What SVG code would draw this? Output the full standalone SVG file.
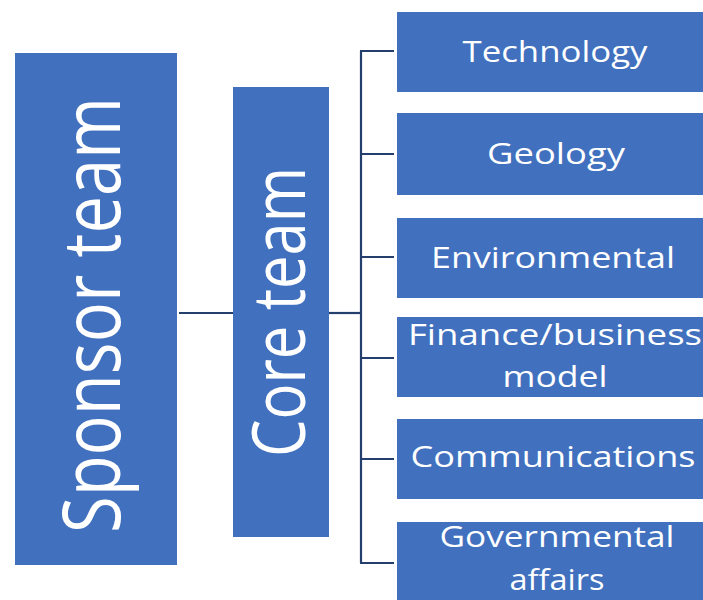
<svg xmlns="http://www.w3.org/2000/svg" width="703" height="600" viewBox="0 0 703 600">
  <style>
    .box { fill: #4070BE; }
    .lbl { fill: #ffffff; font-family: "Open Sans", "Liberation Sans", sans-serif; text-anchor: middle; }
    .link { stroke: #243F6E; stroke-width: 2.2; fill: none; }
  </style>
  <rect x="0" y="0" width="703" height="600" fill="#ffffff"/>

  <!-- connectors -->
  <g id="connectors">
    <line class="link" x1="179" y1="313" x2="234" y2="313"/>
    <line class="link" x1="329" y1="313" x2="361" y2="313"/>
    <line class="link" x1="361" y1="51" x2="361" y2="563"/>
    <line class="link" x1="360" y1="51" x2="394" y2="51"/>
    <line class="link" x1="360" y1="154" x2="394" y2="154"/>
    <line class="link" x1="360" y1="257" x2="394" y2="257"/>
    <line class="link" x1="360" y1="358" x2="394" y2="358"/>
    <line class="link" x1="360" y1="459" x2="394" y2="459"/>
    <line class="link" x1="360" y1="563" x2="394" y2="563"/>
  </g>

  <!-- main team boxes -->
  <g id="sponsor">
    <rect class="box" x="15" y="53" width="162" height="512"/>
    <text class="lbl" font-size="80" textLength="436" lengthAdjust="spacingAndGlyphs" transform="translate(120,315) rotate(-90)">Sponsor team</text>
  </g>
  <g id="core">
    <rect class="box" x="233" y="87" width="96" height="450"/>
    <text class="lbl" font-size="74" textLength="290" lengthAdjust="spacingAndGlyphs" transform="translate(305,312) rotate(-90)">Core team</text>
  </g>

  <!-- work streams -->
  <g id="technology">
    <rect class="box" x="397" y="12" width="320" height="80"/>
    <text class="lbl" x="555" y="62" font-size="30" textLength="185" lengthAdjust="spacingAndGlyphs">Technology</text>
  </g>
  <g id="geology">
    <rect class="box" x="397" y="113" width="320" height="82"/>
    <text class="lbl" x="556" y="164" font-size="30" textLength="138" lengthAdjust="spacingAndGlyphs">Geology</text>
  </g>
  <g id="environmental">
    <rect class="box" x="397" y="218" width="320" height="80"/>
    <text class="lbl" x="553" y="268" font-size="30" textLength="244" lengthAdjust="spacingAndGlyphs">Environmental</text>
  </g>
  <g id="finance">
    <rect class="box" x="397" y="317" width="320" height="80"/>
    <text class="lbl" x="555" y="345" font-size="30" textLength="294" lengthAdjust="spacingAndGlyphs">Finance/business</text>
    <text class="lbl" x="555" y="387" font-size="30" textLength="105" lengthAdjust="spacingAndGlyphs">model</text>
  </g>
  <g id="communications">
    <rect class="box" x="397" y="419" width="320" height="80"/>
    <text class="lbl" x="553" y="467" font-size="30" textLength="285" lengthAdjust="spacingAndGlyphs">Communications</text>
  </g>
  <g id="governmental">
    <rect class="box" x="397" y="522" width="320" height="90"/>
    <text class="lbl" x="557" y="547" font-size="30" textLength="235" lengthAdjust="spacingAndGlyphs">Governmental</text>
    <text class="lbl" x="557" y="590" font-size="30" textLength="95" lengthAdjust="spacingAndGlyphs">affairs</text>
  </g>
</svg>
